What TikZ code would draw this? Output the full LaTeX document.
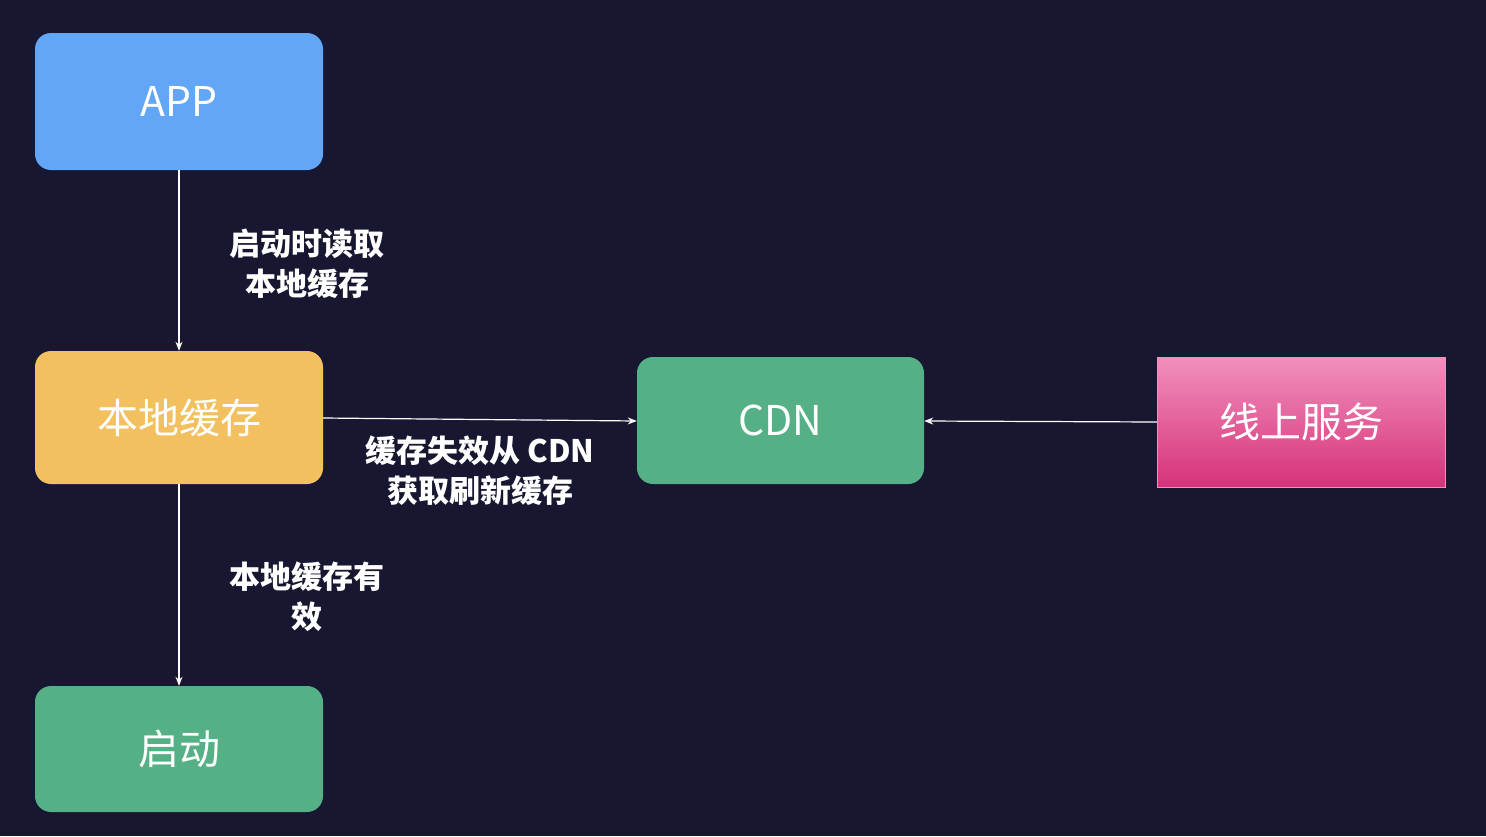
\documentclass[tikz,border=0pt]{standalone}
\usepackage{fontspec}
\setmainfont{Noto Sans CJK SC}
\usetikzlibrary{arrows.meta}
\definecolor{bg}{HTML}{171731}
\definecolor{cblue}{HTML}{62A6F5}
\definecolor{cyel}{HTML}{F2C05E}
\definecolor{cgreen}{HTML}{55B185}
\definecolor{ptop}{HTML}{F190BC}
\definecolor{pbot}{HTML}{D6327A}
\tikzset{
 box/.style={minimum width=288pt,rounded corners=16pt,text=white,font=\fontsize{41}{44}\selectfont},
 lbl/.style={text=white,font=\fontsize{31}{40}\selectfont\bfseries,align=center},
 arr/.style={draw=white,line width=1.2pt,-{Stealth[length=9pt,width=7pt,open]}}
}
\begin{document}
\begin{tikzpicture}[x=1pt,y=-1pt]
\fill[bg] (0,0) rectangle (1486,836);
\useasboundingbox (0,0) rectangle (1486,836);
\node[box,fill=cblue,minimum height=137pt] (app) at (179,101.5) {APP};
\node[box,fill=cyel,minimum height=133pt] (cache) at (179,417.5) {本地缓存};
\node[box,fill=cgreen,minimum height=126pt] (start) at (179,749) {启动};
\node[box,fill=cgreen,minimum height=127pt,minimum width=287pt] (cdn) at (780.5,420.5) {CDN};
\node[box,rounded corners=0pt,top color=ptop,bottom color=pbot,draw=ptop,minimum height=130pt] (svc) at (1301,422) {线上服务};
\draw[arr] (app.south) -- (cache.north);
\draw[arr] (cache.south) -- (start.north);
\draw[arr] (cache.east |- 0,418) -- (cdn.west |- 0,421);
\draw[arr] (svc.west |- 0,422) -- (cdn.east |- 0,421);
\node[lbl] (l1) at (307,264) {启动时读取\\本地缓存};
\node[lbl] (l2) at (307,597) {本地缓存有\\效};
\node[lbl] (l3) at (480,471) {缓存失效从 CDN\\获取刷新缓存};
\end{tikzpicture}
\end{document}
